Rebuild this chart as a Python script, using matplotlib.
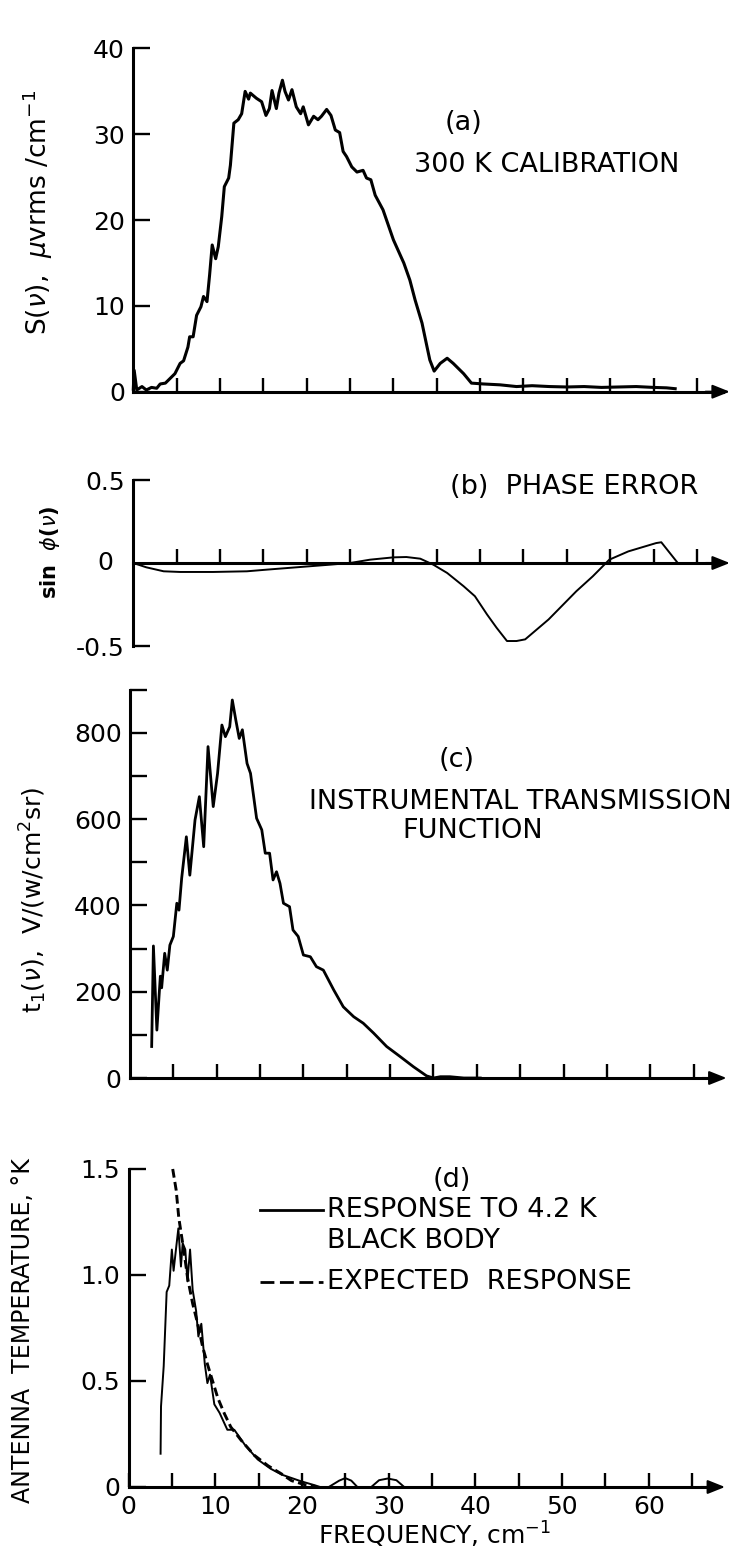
import matplotlib.pyplot as plt
from matplotlib.ticker import FixedLocator, NullFormatter

W, H = 735, 1559

# (a) 300 K calibration, S(nu) in uV rms / cm^-1
freq_a = [0.0, 0.1, 0.4, 1.0, 1.5, 2.1, 2.7, 3.1, 3.7, 4.2, 4.8, 5.4, 5.8, 6.3, 6.5,
          6.9, 7.3, 7.8, 8.1, 8.5, 8.8, 9.1, 9.5, 9.8, 10.2, 10.5, 11.0, 11.2, 11.6,
          12.1, 12.5, 12.9, 13.3, 13.5, 14.2, 14.8, 15.3, 15.7, 16.0, 16.5, 16.8,
          17.2, 17.5, 17.9, 18.3, 18.8, 19.3, 19.6, 20.2, 20.8, 21.3, 21.7, 22.3,
          22.8, 23.3, 23.8, 24.2, 24.6, 25.2, 25.8, 26.5, 26.9, 27.4, 27.9, 28.8,
          30.0, 31.2, 31.9, 32.5, 33.3, 33.8, 34.2, 34.7, 35.4, 36.2, 36.9, 38.1,
          39.0, 40.4, 42.3, 44.2, 46.0, 48.0, 50.0, 52.0, 54.0, 56.0, 58.0, 60.0,
          61.5, 62.5]
sig_a = [0.3, 2.5, 0.2, 0.6, 0.2, 0.5, 0.4, 0.9, 1.0, 1.5, 2.1, 3.3, 3.6, 5.2, 6.4,
         6.4, 8.9, 9.9, 11.1, 10.5, 13.6, 17.1, 15.5, 16.9, 20.4, 23.9, 24.9, 26.4,
         31.3, 31.7, 32.4, 35.0, 34.1, 34.8, 34.2, 33.8, 32.2, 33.0, 35.1, 33.0,
         34.8, 36.3, 35.0, 34.0, 35.2, 33.2, 32.4, 33.2, 31.1, 32.1, 31.7, 32.1,
         32.9, 32.2, 30.5, 30.2, 28.0, 27.4, 26.2, 25.6, 25.8, 24.9, 24.7, 22.9,
         21.2, 17.7, 15.0, 13.0, 10.7, 8.0, 5.6, 3.7, 2.4, 3.3, 3.9, 3.3, 2.1,
         1.0, 0.9, 0.8, 0.6, 0.7, 0.6, 0.55, 0.6, 0.5, 0.55, 0.6, 0.5, 0.45, 0.35]

# (b) phase error, sin phi(nu)
freq_b = [0.0, 1.5, 3.5, 5.4, 9.2, 13.1, 15.4, 18.8, 22.7, 25.0, 27.3, 30.0, 31.5,
          33.1, 34.6, 36.2, 38.1, 39.4, 40.8, 41.9, 43.1, 44.2, 45.2, 47.9, 51.1,
          53.0, 54.9, 57.1, 60.3, 60.9, 62.8]
phase_b = [0.0, -0.026, -0.05, -0.054, -0.054, -0.05, -0.04, -0.026, -0.01, 0.0,
           0.02, 0.034, 0.036, 0.026, -0.01, -0.06, -0.14, -0.2, -0.31, -0.39,
           -0.47, -0.47, -0.46, -0.34, -0.17, -0.08, 0.02, 0.07, 0.12, 0.125, 0.0]

# (c) instrumental transmission function
freq_c = [2.5, 2.7, 3.1, 3.5, 3.65, 4.0, 4.3, 4.6, 5.0, 5.4, 5.65, 5.96, 6.5, 6.9,
          7.5, 8.0, 8.5, 9.0, 9.6, 10.1, 10.6, 11.0, 11.5, 11.8, 12.2, 12.6, 12.96,
          13.5, 13.9, 14.6, 15.2, 15.6, 16.1, 16.5, 16.9, 17.3, 17.7, 18.4, 18.8,
          19.4, 20.0, 20.8, 21.5, 22.3, 23.5, 24.6, 25.8, 26.9, 28.1, 29.6, 31.2,
          32.7, 34.2, 35.0, 35.8, 36.9, 38.5, 40.4]
trans_c = [73, 306, 111, 236, 209, 289, 250, 308, 328, 405, 389, 463, 559, 470,
           598, 652, 536, 768, 629, 706, 818, 791, 814, 876, 830, 787, 807, 729,
           706, 602, 575, 521, 521, 459, 478, 451, 405, 397, 343, 328, 285, 281,
           258, 250, 204, 165, 142, 127, 104, 73, 49, 26, 5, 0, 3, 3, 0, 0]

# (d) antenna temperature, response to 4.2 K black body
freq_d = [3.7, 3.75, 4.06, 4.4, 4.7, 5.0, 5.2, 5.5, 5.75, 6.05, 6.25, 6.55, 6.8,
          7.1, 7.4, 7.8, 8.06, 8.4, 8.8, 9.1, 9.4, 9.9, 10.5, 11.4, 12.2, 13.4,
          14.9, 16.4, 17.7, 19.9, 21.5, 22.1, 23.1, 24.3, 25.0, 25.7, 26.4, 28.0,
          28.9, 29.9, 30.9, 31.8, 40.0]
resp_d = [0.157, 0.38, 0.57, 0.92, 0.95, 1.12, 1.02, 1.13, 1.22, 1.04, 1.15, 1.12,
          0.97, 1.12, 0.93, 0.83, 0.71, 0.77, 0.58, 0.49, 0.53, 0.39, 0.35, 0.27,
          0.27, 0.20, 0.13, 0.086, 0.058, 0.027, 0.008, 0.0, 0.0, 0.03, 0.042,
          0.03, 0.0, 0.0, 0.032, 0.04, 0.032, 0.0, 0.0]

# (d) expected response
freq_e = [5.1, 5.5, 5.8, 6.06, 6.44, 6.8, 7.4, 7.98, 8.56, 9.1, 9.7, 10.3, 11.06,
          11.8, 13.0, 14.5, 16.1, 17.6, 18.8, 20.4, 21.5]
expect_e = [1.50, 1.40, 1.27, 1.20, 1.10, 0.99, 0.865, 0.77, 0.66, 0.58, 0.50,
            0.42, 0.346, 0.283, 0.22, 0.15, 0.10, 0.063, 0.03, 0.01, 0.003]

x_ticks = list(range(5, 70, 5))
TXT = 19.5

fig = plt.figure(figsize=(W / 100, H / 100), dpi=100)


def px(x, y):
    return x / W, 1 - y / H


def make_axes(x0, y0, sx, sy, xlim, ylim):
    # place an axes so data (0, 0) sits at pixel (x0, y0)
    left = (x0 + xlim[0] * sx) / W
    width = (xlim[1] - xlim[0]) * sx / W
    bottom = 1 - (y0 - ylim[0] * sy) / H
    height = (ylim[1] - ylim[0]) * sy / H
    ax = fig.add_axes([left, bottom, width, height])
    ax.set_xlim(xlim)
    ax.set_ylim(ylim)
    ax.patch.set_visible(False)
    ax.spines['top'].set_visible(False)
    ax.spines['right'].set_visible(False)
    ax.spines['left'].set_linewidth(2.2)
    ax.spines['bottom'].set_linewidth(2.2)
    ax.spines['bottom'].set_position(('data', 0))
    ax.spines['bottom'].set_bounds(0, 68)
    ax.xaxis.set_major_locator(FixedLocator(x_ticks))
    ax.xaxis.set_major_formatter(NullFormatter())
    ax.tick_params(axis='x', direction='in', length=10, width=1.7)
    ax.tick_params(axis='y', direction='in', length=12, width=1.7,
                   labelsize=18, pad=6)
    ax.annotate('', xy=(68.8, 0), xytext=(66, 0), annotation_clip=False,
                arrowprops=dict(arrowstyle='-|>,head_length=0.75,head_width=0.3',
                                color='black', lw=1.5, mutation_scale=14,
                                shrinkA=0, shrinkB=0))
    return ax


# panel (a)
ax1 = make_axes(133.3, 391.7, 8.67, 8.58, (0, 69), (0, 41))
ax1.plot(freq_a, sig_a, color='black', lw=2.2, clip_on=False)
ax1.spines['left'].set_bounds(0, 40)
ax1.set_yticks([0, 10, 20, 30, 40])
fig.text(*px(38, 212), r'S($\nu$),  $\mu$vrms /cm$^{-1}$', rotation=90,
         ha='center', va='center', fontsize=19)
fig.text(*px(464, 123), '(a)', ha='center', va='center', fontsize=TXT)
fig.text(*px(547, 165), '300 K CALIBRATION', ha='center', va='center', fontsize=TXT)

# panel (b)
ax2 = make_axes(133.3, 563, 8.67, 166, (0, 69), (-0.52, 0.52))
ax2.plot(freq_b, phase_b, color='black', lw=1.4, clip_on=False)
ax2.spines['left'].set_bounds(-0.5, 0.5)
ax2.set_yticks([-0.5, 0.5])
ax2.set_yticklabels(['-0.5', '0.5'])
fig.text(*px(113, 563), '0', ha='right', va='center', fontsize=18)
fig.text(*px(50, 552), r'sin  $\phi$($\nu$)', rotation=90, ha='center',
         va='center', fontsize=15, fontweight='bold')
fig.text(*px(574, 487), '(b)  PHASE ERROR', ha='center', va='center', fontsize=TXT)

# panel (c)
ax3 = make_axes(130, 1078, 8.67, 0.4315, (0, 69), (0, 910))
ax3.plot(freq_c, trans_c, color='black', lw=2.0, clip_on=False)
ax3.spines['left'].set_bounds(0, 900)
ax3.set_yticks([0, 200, 400, 600, 800])
ax3.yaxis.set_minor_locator(FixedLocator([100, 300, 500, 700, 900]))
ax3.tick_params(axis='y', which='minor', direction='in', length=12, width=1.7)
fig.text(*px(33, 900), r't$_1$($\nu$),  V/(w/cm$^2$sr)', rotation=90,
         ha='center', va='center', fontsize=18)
fig.text(*px(457, 760), '(c)', ha='center', va='center', fontsize=TXT)
fig.text(*px(520, 802), 'INSTRUMENTAL TRANSMISSION', ha='center', va='center',
         fontsize=TXT)
fig.text(*px(473, 831), 'FUNCTION', ha='center', va='center', fontsize=TXT)

# panel (d)
ax4 = make_axes(128.5, 1487, 8.67, 212, (0, 69), (0, 1.55))
ax4.plot(freq_d, resp_d, color='black', lw=1.4, clip_on=False)
ax4.plot(freq_e, expect_e, color='black', lw=2.1, dashes=(3, 1.5), clip_on=False)
ax4.spines['left'].set_bounds(0, 1.5)
ax4.set_yticks([0, 0.5, 1.0, 1.5])
ax4.set_yticklabels(['0', '0.5', '1.0', '1.5'])
ax4.xaxis.set_major_locator(FixedLocator([0, 10, 20, 30, 40, 50, 60]))
ax4.xaxis.set_major_formatter(plt.FixedFormatter(['0', '10', '20', '30', '40', '50', '60']))
ax4.xaxis.set_minor_locator(FixedLocator([5, 15, 25, 35, 45, 55, 65]))
ax4.tick_params(axis='x', which='both', direction='in', length=10, width=1.7,
                labelsize=18, pad=6)
fig.text(*px(435, 1535), r'FREQUENCY, cm$^{-1}$', ha='center', va='center',
         fontsize=18)
fig.text(*px(23, 1331), 'ANTENNA  TEMPERATURE, °K', rotation=90, ha='center',
         va='center', fontsize=17)
fig.text(*px(452, 1180), '(d)', ha='center', va='center', fontsize=TXT)

# hand-drawn style legend of panel (d)
fig.add_artist(plt.Line2D([260 / W, 323 / W], [1 - 1210 / H, 1 - 1210 / H],
                          color='black', lw=2))
fig.add_artist(plt.Line2D([260 / W, 323 / W], [1 - 1282 / H, 1 - 1282 / H],
                          color='black', lw=2, dashes=(5, 2)))
fig.text(*px(327, 1210), 'RESPONSE TO 4.2 K', ha='left', va='center', fontsize=TXT)
fig.text(*px(327, 1241), 'BLACK BODY', ha='left', va='center', fontsize=TXT)
fig.text(*px(327, 1282), 'EXPECTED  RESPONSE', ha='left', va='center', fontsize=TXT)

fig.savefig('out.png', dpi=100)
